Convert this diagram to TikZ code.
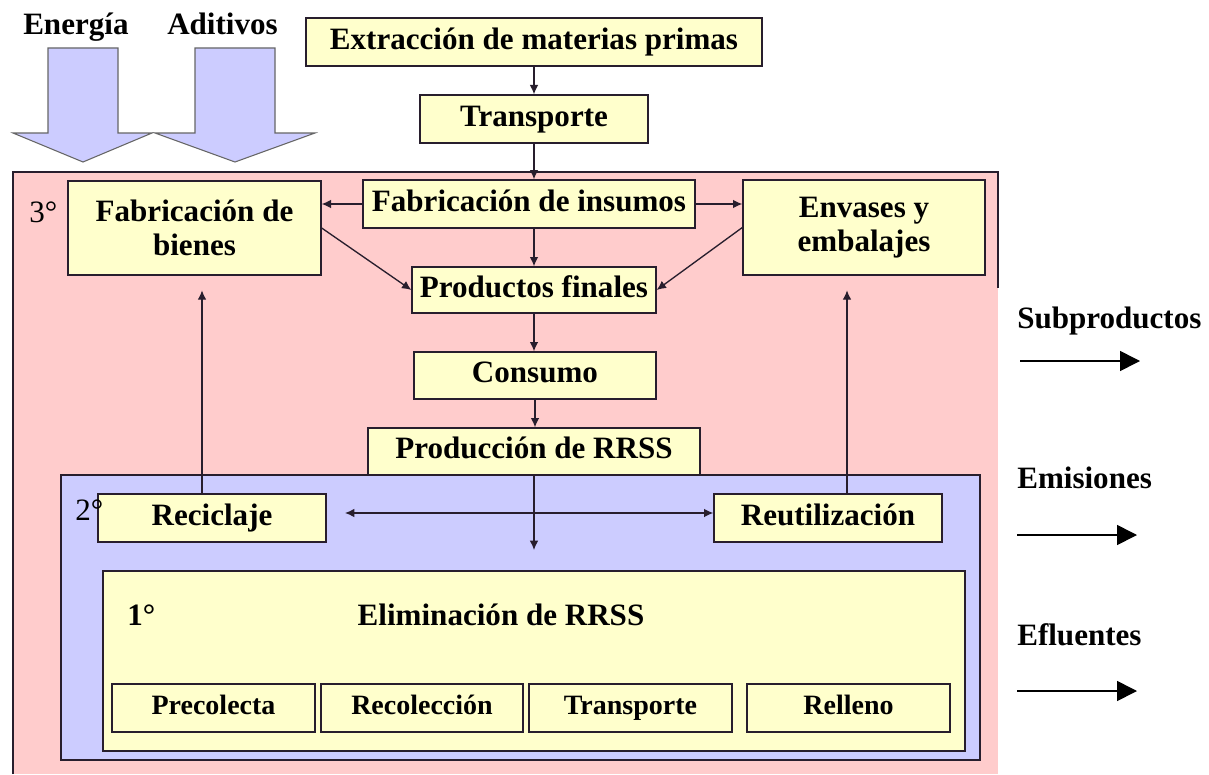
\documentclass[tikz,border=0pt]{standalone}
\usepackage{fontspec}
\setmainfont{Liberation Serif}
\usetikzlibrary{arrows.meta,calc}
\definecolor{pinkc}{RGB}{255,204,204}
\definecolor{bluec}{RGB}{204,204,255}
\definecolor{yelc}{RGB}{255,255,204}
\definecolor{edgec}{RGB}{40,30,45}
\begin{document}
\begin{tikzpicture}[x=0.75pt,y=-0.75pt,
  sz/.style 2 args={minimum width=#1*0.75pt, minimum height=#2*0.75pt},
  mbox/.style={draw=edgec, line width=1pt, fill=yelc, inner sep=0pt, font=\bfseries\fontsize{23.3}{26}\selectfont, align=center},
  box/.style={mbox, text height=16pt, text depth=5pt},
  sbox/.style={mbox, font=\bfseries\fontsize{21}{24}\selectfont, text height=14.3pt, text depth=4.6pt},
  zone/.style={draw=edgec, line width=1pt, inner sep=0pt},
  arr/.style={draw=edgec, line width=1pt, -{Latex[length=7pt,width=6.5pt]}},
  darr/.style={draw=edgec, line width=1pt, {Latex[length=7pt,width=6.5pt]}-{Latex[length=7pt,width=6.5pt]}},
  big/.style={line width=1.2pt, -{Triangle[length=15pt,width=15pt]}},
  lbl/.style={font=\bfseries\fontsize{23.3}{26}\selectfont, inner sep=0pt, anchor=base west},
  num/.style={font=\fontsize{23.3}{26}\selectfont, inner sep=0pt, anchor=base west},
  blk/.style={draw=black!60, line width=0.8pt, fill=bluec}
]
\useasboundingbox (0,0) rectangle (1209,774);
\fill[white] (0,0) rectangle (1209,774);

% input block arrows
\node[lbl] (energia) at (23,35) {Energía};
\node[lbl] (aditivos) at (167,35) {Aditivos};
\draw[blk] (48,48) -- (118,48) -- (118,133) -- (152,133) -- (83,162) -- (13,133) -- (48,133) -- cycle;
\draw[blk] (195,48) -- (275,48) -- (275,133) -- (315,133) -- (235,162) -- (155,133) -- (195,133) -- cycle;

% zone 3
\node[inner sep=0pt, outer sep=0pt, fill=pinkc, sz={985}{602}] (z3) at (505.5,473) {};
\draw[edgec, line width=1pt] (z3.south west) -- (z3.north west) -- (z3.north east) -- ($(z3.north east)+(0,116)$);
\node[num] (n3) at (29,222) {3°};

% top chain
\node[box, sz={456}{48}] (extr) at (534,42) {Extracción de materias primas};
\node[box, sz={228}{48}] (transp) at (534,119) {Transporte};
\node[box, sz={332}{48}] (fins) at (529,204) {Fabricación de insumos};
\node[mbox, sz={253}{94}] (fbien) at (194.5,228) {Fabricación de\\bienes};
\node[mbox, sz={242}{95}] (env) at (864,227.5) {Envases y\\embalajes};
\node[box, sz={244}{46}] (prod) at (534,290) {Productos finales};
\node[box, sz={242}{47}] (cons) at (535,375.5) {Consumo};

% zone 2
\node[zone, fill=bluec, sz={919}{285}] (z2) at (520.5,617.5) {};
\node[box, sz={332}{47}] (prrss) at (534,451.5) {Producción de RRSS};
\node[box, sz={228}{48}] (recic) at (212,518) {Reciclaje};
\node[box, sz={228}{48}] (reut) at (828,518) {Reutilización};
\node[num] (n2) at (75,520) {2°};

% zone 1
\node[mbox, sz={862}{180}] (elim) at (534,661) {};
\node[lbl, anchor=center] (elimt) at (501,615) {Eliminación de RRSS};
\node[lbl] (n1) at (127,625) {1°};
\node[sbox, sz={203}{48}] (prec) at (213.5,708) {Precolecta};
\node[sbox, sz={202}{48}] (recol) at (422,708) {Recolección};
\node[sbox, sz={203}{48}] (transp2) at (630.5,708) {Transporte};
\node[sbox, sz={203}{48}] (rell) at (848.5,708) {Relleno};

% connectors
\draw[arr] (extr) -- (transp);
\draw[arr] (transp.south) -- (transp.south |- fins.north);
\draw[arr] (fins.west) -- (fins.west -| fbien.east);
\draw[arr] (fins.east) -- (fins.east -| env.west);
\draw[arr] (prod.north |- fins.south) -- (prod.north);
\draw[arr] (fbien.east) -- (prod.west);
\draw[arr] (env.west) -- (prod.east);
\draw[arr] (prod.south) -- (prod.south |- cons.north);
\draw[arr] (cons.south) -- (cons.south |- prrss.north);
\coordinate (dn) at (534,550);
\draw[arr] (prrss.south -| dn) -- (dn);
\coordinate (hl) at (345,513);
\draw[darr] (hl) -- (hl -| reut.west);
\coordinate (rcTop) at ($(recic.north)+(-10,0)$);
\draw[arr, shorten >=11pt] (rcTop) -- (rcTop |- fbien.south);
\coordinate (ruTop) at ($(reut.north)+(19,0)$);
\draw[arr, shorten >=11pt] (ruTop) -- (ruTop |- env.south);

% outputs
\node[lbl] (sub) at (1017,328) {Subproductos};
\node[lbl] (emi) at (1017,488) {Emisiones};
\node[lbl] (efl) at (1017,645) {Efluentes};
\coordinate (s1a) at (1020,361); \coordinate (s1b) at (1140,361);
\coordinate (s2a) at (1017,535); \coordinate (s2b) at (1137,535);
\coordinate (s3a) at (1017,691); \coordinate (s3b) at (1137,691);
\draw[big] (s1a) -- (s1b);
\draw[big] (s2a) -- (s2b);
\draw[big] (s3a) -- (s3b);
\end{tikzpicture}
\end{document}
